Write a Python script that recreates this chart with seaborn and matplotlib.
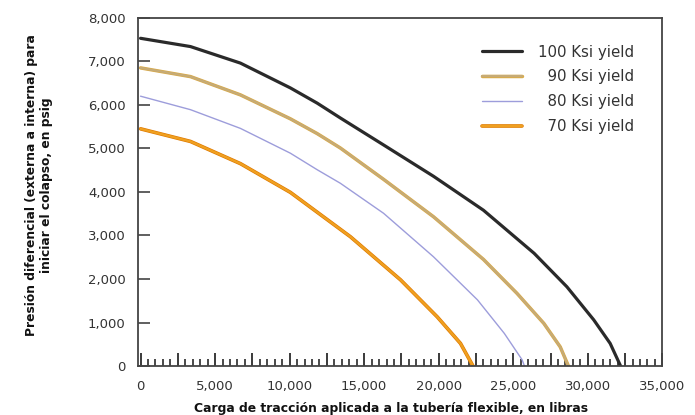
import matplotlib
matplotlib.use("Agg")
import matplotlib.pyplot as plt
import matplotlib.patheffects as pe
from matplotlib.ticker import MultipleLocator, FuncFormatter
import seaborn as sns
import pandas as pd

# ---- data ----
x100 = [0, 3350, 6700, 10050, 11850, 13400, 16300, 19650, 23000, 26400, 28600, 30400, 31500, 32200]
y100 = [7530, 7340, 6960, 6390, 6040, 5700, 5080, 4360, 3580, 2590, 1820, 1060, 520, 0]

x90 = [0, 3350, 6700, 10050, 11850, 13400, 16300, 19650, 23000, 25250, 27050, 28150, 28700]
y90 = [6850, 6650, 6230, 5680, 5340, 5010, 4290, 3430, 2450, 1670, 980, 440, 0]

x80 = [0, 3350, 6700, 10050, 11850, 13400, 14870, 16300, 19650, 22600, 24400, 25600, 25750]
y80 = [6200, 5890, 5460, 4890, 4510, 4200, 3850, 3510, 2510, 1520, 750, 140, 0]

x70 = [0, 3350, 6700, 10050, 14080, 17440, 19900, 21460, 22300]
y70 = [5450, 5160, 4650, 3990, 2970, 1980, 1130, 520, 0]

labels = ["100 Ksi yield", "\u200790 Ksi yield", "\u200780 Ksi yield", "\u200770 Ksi yield"]
yticks = [0, 1000, 2000, 3000, 4000, 5000, 6000, 7000, 8000]

series = [(x100, y100), (x90, y90), (x80, y80), (x70, y70)]
frames = []
for lab, (xs, ys) in zip(labels, series):
    frames.append(pd.DataFrame({"carga": xs, "presion": ys, "serie": lab}))
df = pd.concat(frames, ignore_index=True)

colors = {labels[0]: "#2a2a2a", labels[1]: "#c6ab76", labels[2]: "#9d9ddb", labels[3]: "#f0a020"}
widths = {labels[0]: 2.3, labels[1]: 1.6, labels[2]: 1.0, labels[3]: 1.7}
edges = {labels[1]: "#d9aa48", labels[3]: "#dd7800"}

sns.set_style("white")
plt.rcParams["font.family"] = ["DejaVu Sans"]

fig = plt.figure(figsize=(6.95, 4.15), dpi=100)
ax = fig.add_axes([0.199, 0.118, 0.754, 0.839])

for lab in labels:
    sub = df[df["serie"] == lab]
    sns.lineplot(data=sub, x="carga", y="presion", ax=ax, color=colors[lab],
                 linewidth=widths[lab], sort=False, label=lab, estimator=None)
for line, lab in zip(ax.lines, labels):
    line.set_solid_joinstyle("round")
    if lab in edges:
        line.set_path_effects([pe.Stroke(linewidth=widths[lab] + 0.9, foreground=edges[lab]), pe.Normal()])

ax.set_xlim(-150, 35000)
ax.set_ylim(0, 8000)

ax.xaxis.set_major_locator(MultipleLocator(2500))
ax.xaxis.set_minor_locator(MultipleLocator(500))
ax.xaxis.set_major_formatter(FuncFormatter(lambda v, p: f"{int(v):,}" if v % 5000 == 0 else ""))
ax.set_yticks(yticks)
ax.yaxis.set_major_formatter(FuncFormatter(lambda v, p: f"{int(v):,}"))

ax.tick_params(axis="x", which="both", bottom=True, top=False)
ax.tick_params(axis="y", which="both", left=True, right=False)
ax.tick_params(axis="x", which="major", direction="in", length=9.5, width=1.4, color="#3a3a3a",
               labelsize=9.5, labelcolor="#333333", pad=10)
ax.tick_params(axis="x", which="minor", direction="in", length=5, width=1.3, color="#3a3a3a")
ax.tick_params(axis="y", which="major", direction="in", length=8.6, width=1.2, color="#444444",
               labelsize=9.5, labelcolor="#333333", pad=9)

for s in ax.spines.values():
    s.set_color("#444444")
    s.set_linewidth(1.3)

ax.set_xlabel("Carga de tracción aplicada a la tubería flexible, en libras",
              fontsize=8.9, fontweight="bold", color="#111111")
ax.xaxis.set_label_coords(0.483, -0.103)
ax.set_ylabel("Presión diferencial (externa a interna) para\niniciar el colapso, en psig",
              fontsize=8.8, fontweight="bold", color="#111111", linespacing=1.2)
ax.yaxis.set_label_coords(-0.162, 0.52)

leg = ax.legend(loc="upper left", bbox_to_anchor=(0.655, 0.923), frameon=False,
                fontsize=10.8, handlelength=2.67, handletextpad=1.07, labelspacing=0.65,
                borderpad=0, borderaxespad=0)
for t in leg.get_texts():
    t.set_color("#333333")

fig.savefig("out.png", dpi=100)
